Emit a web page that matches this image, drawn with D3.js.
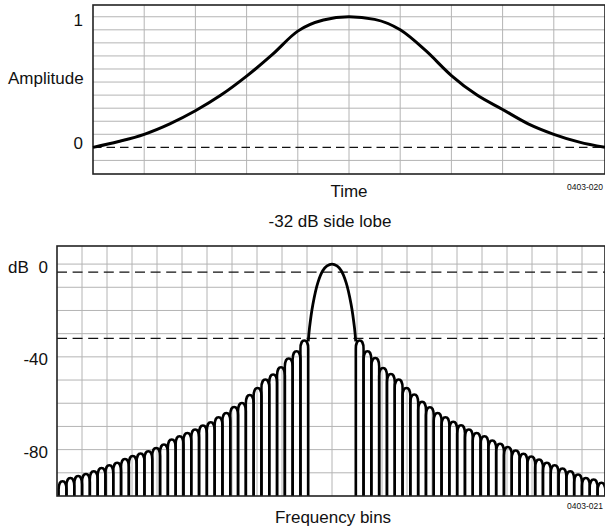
<!DOCTYPE html>
<html>
<head>
<meta charset="utf-8">
<script src="https://cdn.jsdelivr.net/npm/d3@7"></script>
<style>
  body { margin: 0; background: #fff; }
  text { font-family: "Liberation Sans", Arial, sans-serif; fill: #111; }
</style>
</head>
<body>
<div id="d3"></div>
<script>
// time window (top plot), time as fraction of record
const timeFrac  = [0, 0.05, 0.1, 0.15, 0.2, 0.25, 0.3, 0.35, 0.4, 0.45, 0.5,
                   0.55, 0.6, 0.65, 0.7, 0.75, 0.8, 0.85, 0.9, 0.95, 1];
const amplitude = [0, 0.045, 0.10, 0.18, 0.28, 0.40, 0.545, 0.71, 0.89, 0.975, 1,
                   0.98, 0.90, 0.74, 0.55, 0.40, 0.29, 0.18, 0.10, 0.04, 0];
const ampTicks = [0, 1];

// spectrum (bottom plot), x in bins from centre, y in dB
const mainLobeBins = [-1.9, -1.8, -1.53, -1.13, -0.73, -0.4, 0, 0.4, 0.73, 1.13, 1.53, 1.8, 1.9];
const mainLobeDb   = [-33.3, -27.5, -17.4, -8.0, -2.8, -0.8, 0, -0.8, -2.8, -8.0, -17.4, -27.5, -33.3];
const sideLobeWidth = 0.624;   // bins per side lobe
// side lobe peaks, from the main lobe outwards
const leftLobeDb  = [-33.0, -37.6, -40.7, -44.5, -47.6, -49.8, -53.4, -56.5, -59.9, -61.6, -64.2,
                     -66.0, -68.2, -69.6, -71.3, -72.8, -74.2, -75.6, -77.8, -79.3, -80.7, -81.7,
                     -82.8, -84.0, -85.7, -86.7, -87.9, -89.3, -90.5, -91.4, -92.2, -93.6];
const rightLobeDb = [-33.0, -37.6, -40.5, -44.8, -47.4, -49.8, -53.4, -56.2, -59.4, -61.7, -64.2,
                     -66.0, -68.0, -69.5, -71.3, -72.8, -74.2, -76.1, -77.5, -78.9, -80.4, -81.8,
                     -83.0, -84.3, -85.7, -86.7, -88.1, -89.3, -90.7, -92.2, -92.9, -94.3];
const dbTicks = [0, -40, -80];
const refLevels = [-3.5, -32];   // dashed lines

const width = 605, height = 529;

const svg = d3.select("#d3")
  .append("svg")
    .attr("width", width)
    .attr("height", height);

const gridColor = "#b4b4b4";

// ---------- top plot ----------
const xT = d3.scaleLinear().domain([0, 1]).range([93, 605]);
const yT = d3.scaleLinear().domain([-0.204, 1.09]).range([174, 5]);

const topG = svg.append("g");

topG.append("g")
  .selectAll("line")
  .data(d3.range(0.1, 1, 0.1))
  .join("line")
    .attr("x1", d => xT(d)).attr("x2", d => xT(d))
    .attr("y1", 5).attr("y2", 174)
    .attr("stroke", gridColor);

topG.append("g")
  .selectAll("line")
  .data(d3.range(-1, 11).filter(d => d !== 0).map(d => d / 10))
  .join("line")
    .attr("x1", 93).attr("x2", 605)
    .attr("y1", d => yT(d)).attr("y2", d => yT(d))
    .attr("stroke", gridColor);

topG.append("line")
    .attr("x1", 93).attr("x2", 605)
    .attr("y1", yT(0)).attr("y2", yT(0))
    .attr("stroke", "#111")
    .attr("stroke-width", 1.3)
    .attr("stroke-dasharray", "8.5,5");

topG.append("rect")
    .attr("x", 93).attr("y", 5)
    .attr("width", 512).attr("height", 169)
    .attr("fill", "none")
    .attr("stroke", "#222")
    .attr("stroke-width", 1.6);

topG.append("path")
    .datum(timeFrac.map((t, i) => [t, amplitude[i]]))
    .attr("fill", "none")
    .attr("stroke", "#000")
    .attr("stroke-width", 3)
    .attr("d", d3.line()
        .x(d => xT(d[0]))
        .y(d => yT(d[1]))
        .curve(d3.curveMonotoneX));

topG.selectAll("text.tick")
  .data(ampTicks)
  .join("text")
    .attr("class", "tick")
    .attr("x", 83)
    .attr("y", d => yT(d) + (d === 1 ? 3.5 : -4))
    .attr("dominant-baseline", "central")
    .attr("text-anchor", "end")
    .style("font-size", "17px")
    .text(d => d);

topG.append("text")
    .attr("x", 8).attr("y", 84)
    .style("font-size", "17px")
    .text("Amplitude");

topG.append("text")
    .attr("x", 349).attr("y", 197)
    .attr("text-anchor", "middle")
    .style("font-size", "17px")
    .text("Time");

topG.append("text")
    .attr("x", 603).attr("y", 190)
    .attr("text-anchor", "end")
    .style("font-size", "8.5px")
    .text("0403-020");

svg.append("text")
    .attr("x", 330).attr("y", 227)
    .attr("text-anchor", "middle")
    .style("font-size", "17px")
    .text("-32 dB side lobe");

// ---------- bottom plot ----------
const xB = d3.scaleLinear().domain([-22, 22]).range([57, 607]);
const yB = d3.scaleLinear().domain([-100, 7.8]).range([496, 246]);

const botG = svg.append("g");

botG.append("g")
  .selectAll("line")
  .data(d3.range(-20, 21, 2))
  .join("line")
    .attr("x1", d => xB(d)).attr("x2", d => xB(d))
    .attr("y1", 246).attr("y2", 496)
    .attr("stroke", gridColor);

botG.append("g")
  .selectAll("line")
  .data(d3.range(-90, 1, 10))
  .join("line")
    .attr("x1", 57).attr("x2", 605)
    .attr("y1", d => yB(d)).attr("y2", d => yB(d))
    .attr("stroke", gridColor);

botG.append("g")
  .selectAll("line")
  .data(refLevels)
  .join("line")
    .attr("x1", 57).attr("x2", 605)
    .attr("y1", d => yB(d)).attr("y2", d => yB(d))
    .attr("stroke", "#111")
    .attr("stroke-width", 1.3)
    .attr("stroke-dasharray", "10,5.6");

// one arch per side lobe, with a drop line to the floor at each null
function lobePath(x0, x1, peak) {
  const yb = yB(-100), yp = yB(peak), yc = yB(peak - 3.5);
  const yk = (4 * yp - yc) / 3;
  const p = d3.path();
  p.moveTo(x0, yb);
  p.lineTo(x0, yc);
  p.bezierCurveTo(x0, yk, x1, yk, x1, yc);
  p.lineTo(x1, yb);
  return p.toString();
}

const edge = mainLobeBins[mainLobeBins.length - 1];

botG.append("g")
  .selectAll("path")
  .data(rightLobeDb)
  .join("path")
    .attr("fill", "none")
    .attr("stroke", "#000")
    .attr("stroke-width", 2.5)
    .attr("d", (d, i) => lobePath(xB(edge + i * sideLobeWidth), xB(edge + (i + 1) * sideLobeWidth), d));

botG.append("g")
  .selectAll("path")
  .data(leftLobeDb)
  .join("path")
    .attr("fill", "none")
    .attr("stroke", "#000")
    .attr("stroke-width", 2.5)
    .attr("d", (d, i) => lobePath(xB(-edge - (i + 1) * sideLobeWidth), xB(-edge - i * sideLobeWidth), d));

botG.append("path")
    .datum(mainLobeBins.map((b, i) => [b, mainLobeDb[i]]))
    .attr("fill", "none")
    .attr("stroke", "#000")
    .attr("stroke-width", 2.8)
    .attr("d", d3.line()
        .x(d => xB(d[0]))
        .y(d => yB(d[1]))
        .curve(d3.curveCatmullRom));

botG.append("rect")
    .attr("x", 57).attr("y", 246)
    .attr("width", 548).attr("height", 250)
    .attr("fill", "none")
    .attr("stroke", "#222")
    .attr("stroke-width", 1.6);

botG.selectAll("text.tick")
  .data(dbTicks)
  .join("text")
    .attr("class", "tick")
    .attr("x", 48)
    .attr("y", d => yB(d) + 3)
    .attr("dominant-baseline", "central")
    .attr("text-anchor", "end")
    .style("font-size", "17px")
    .text(d => d);

botG.append("text")
    .attr("x", 8).attr("y", yB(0) + 3)
    .attr("dominant-baseline", "central")
    .style("font-size", "17px")
    .text("dB");

botG.append("text")
    .attr("x", 333).attr("y", 523)
    .attr("text-anchor", "middle")
    .style("font-size", "17px")
    .text("Frequency bins");

botG.append("text")
    .attr("x", 603).attr("y", 509)
    .attr("text-anchor", "end")
    .style("font-size", "8.5px")
    .text("0403-021");
</script>
</body>
</html>
